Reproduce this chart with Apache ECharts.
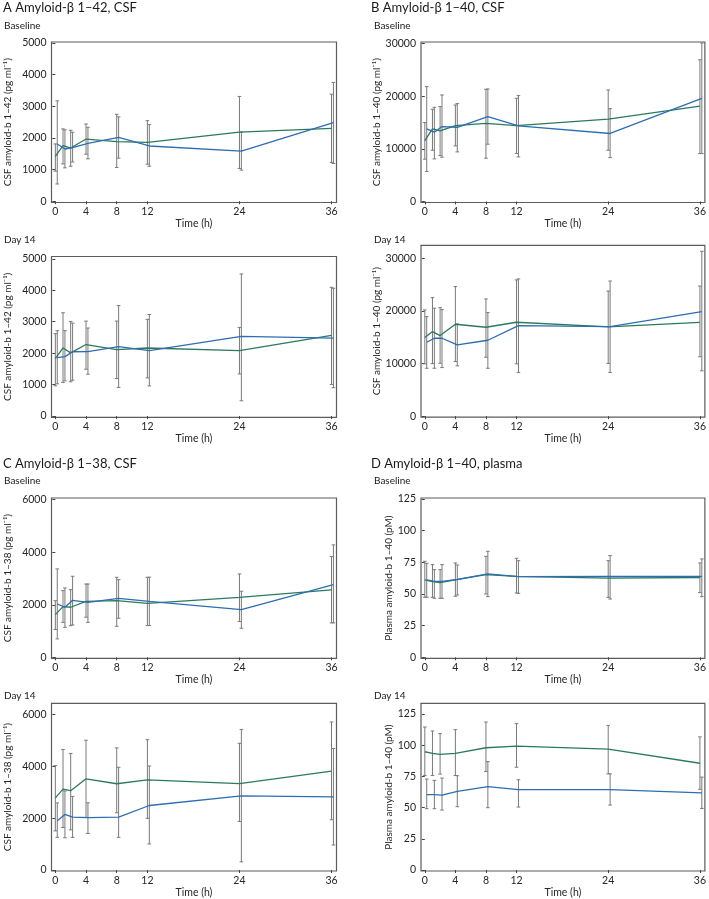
<!DOCTYPE html>
<html>
<head>
<meta charset="utf-8">
<script src="https://cdn.jsdelivr.net/npm/echarts@6/dist/echarts.min.js"></script>
<style>
  html, body { margin: 0; padding: 0; background: #fff; }
  #chart { width: 709px; height: 899px; }
</style>
</head>
<body>
<div id="chart"></div>
<script>
// sampling times (h) and labelled ticks
const hours = [0, 1, 2, 4, 8, 12, 24, 36];
const xTicks = [0, 4, 8, 12, 24, 36];

// A  Amyloid-beta 1-42, CSF
const a42BaseGreen   = [1420, 1760, 1680, 1965, 1885, 1860, 2180, 2300];
const a42BaseGreenLo = [950, 1180, 1105, 1485, 1065, 1170, 1036, 1226];
const a42BaseGreenHi = [1810, 2285, 2240, 2440, 2745, 2545, 3310, 3380];
const a42BaseBlue    = [1810, 1650, 1695, 1830, 2020, 1745, 1586, 2480];
const a42BaseBlueLo  = [545, 1055, 1240, 1340, 1360, 1105, 983, 1194];
const a42BaseBlueHi  = [3170, 2255, 2180, 2335, 2665, 2420, 2190, 3753];

const a42D14Green   = [1830, 2165, 2010, 2275, 2115, 2165, 2080, 2565];
const a42D14GreenLo = [960, 1065, 1090, 1490, 1195, 1215, 1340, 1005];
const a42D14GreenHi = [2620, 3285, 3010, 3020, 3020, 3075, 2820, 4095];
const a42D14Blue    = [1855, 1890, 2045, 2050, 2205, 2080, 2535, 2480];
const a42D14BlueLo  = [1025, 1120, 1140, 1330, 910, 960, 485, 900];
const a42D14BlueHi  = [2715, 2715, 2955, 2800, 3515, 3230, 4520, 4065];

// B  Amyloid-beta 1-40, CSF
const a40BaseGreen   = [11580, 13800, 13420, 14430, 14870, 14430, 15670, 18150];
const a40BaseGreenLo = [8040, 9750, 8730, 10570, 8230, 9110, 9750, 9110];
const a40BaseGreenHi = [15000, 17530, 18040, 18350, 21330, 19620, 21200, 26940];
const a40BaseBlue    = [13800, 13170, 14240, 14110, 16140, 14370, 12930, 19620];
const a40BaseBlueLo  = [5700, 8100, 8420, 9430, 10890, 8480, 8340, 9110];
const a40BaseBlueHi  = [21840, 17910, 20250, 18610, 21390, 20130, 17650, 30130];

const a40D14Green   = [14940, 16080, 15320, 17470, 16900, 17850, 16990, 17820];
const a40D14GreenLo = [9940, 10000, 10060, 10380, 11200, 9940, 10020, 11290];
const a40D14GreenHi = [20190, 22530, 20630, 24620, 22280, 25890, 23780, 24730];
const a40D14Blue    = [14050, 14810, 14810, 13540, 14430, 17220, 17000, 19850];
const a40D14BlueLo  = [9110, 9110, 9240, 9560, 9110, 8290, 8310, 8620];
const a40D14BlueHi  = [18920, 20510, 20250, 17530, 19680, 26080, 25680, 31330];

// C  Amyloid-beta 1-38, CSF
const a38BaseGreen   = [1625, 1930, 1905, 2130, 2155, 2055, 2285, 2565];
const a38BaseGreenLo = [1055, 1330, 1205, 1525, 1180, 1205, 1360, 1310];
const a38BaseGreenHi = [2155, 2540, 2575, 2790, 3045, 3045, 3175, 3835];
const a38BaseBlue    = [2030, 1905, 2170, 2095, 2245, 2130, 1815, 2770];
const a38BaseBlueLo  = [700, 1140, 1230, 1330, 1485, 1210, 1105, 1310];
const a38BaseBlueHi  = [3365, 2640, 3085, 2790, 2955, 3050, 2515, 4280];

const a38D14Green   = [2785, 3125, 3060, 3520, 3330, 3480, 3335, 3815];
const a38D14GreenLo = [1510, 1640, 1550, 2030, 2210, 1995, 1875, 1940];
const a38D14GreenHi = [4030, 4650, 4500, 5010, 4715, 5030, 4890, 5715];
const a38D14Blue    = [1905, 2145, 2045, 2020, 2045, 2490, 2865, 2825];
const a38D14BlueLo  = [1260, 1245, 1260, 1410, 1260, 1005, 315, 965];
const a38D14BlueHi  = [2590, 3050, 2840, 2595, 3965, 4015, 5425, 4690];

// D  Amyloid-beta 1-40, plasma
const p40BaseGreen   = [61.1, 59.7, 58.9, 61.1, 65.3, 63.9, 62.5, 63.0];
const p40BaseGreenLo = [47.4, 47.4, 46.6, 48.2, 50.0, 50.8, 47.3, 51.1];
const p40BaseGreenHi = [75.8, 73.2, 69.2, 74.5, 79.7, 78.2, 76.3, 74.5];
const p40BaseBlue    = [61.1, 60.0, 60.0, 61.6, 65.8, 63.7, 63.8, 63.8];
const p40BaseBlueLo  = [47.4, 46.6, 46.6, 49.2, 47.9, 50.5, 46.0, 47.9];
const p40BaseBlueHi  = [74.2, 69.2, 73.2, 72.9, 83.7, 76.3, 80.3, 77.7];

const p40D14Green   = [94.7, 93.4, 92.6, 93.4, 97.9, 99.2, 96.8, 85.5];
const p40D14GreenLo = [75.7, 75.7, 76.8, 75.7, 78.9, 82.3, 77.0, 64.6];
const p40D14GreenHi = [114.5, 111.3, 109.2, 112.4, 118.5, 117.2, 115.8, 106.6];
const p40D14Blue    = [60.4, 60.4, 59.9, 63.0, 66.8, 64.4, 64.4, 61.7];
const p40D14BlueLo  = [49.1, 49.1, 48.0, 50.7, 49.9, 50.4, 52.0, 49.3];
const p40D14BlueHi  = [72.8, 71.8, 73.6, 75.5, 86.8, 72.3, 77.0, 74.4];

// y tick labels
const ticks42 = [0, 1000, 2000, 3000, 4000, 5000];
const ticks40 = [0, 10000, 20000, 30000];
const ticks38 = [0, 2000, 4000, 6000];
const ticksPlasma = [0, 25, 50, 75, 100, 125];

const yName42 = 'CSF amyloid-b 1\u201342 (pg ml\u207b\u00b9)';
const yName40 = 'CSF amyloid-b 1\u201340 (pg ml\u207b\u00b9)';
const yName38 = 'CSF amyloid-b 1\u201338 (pg ml\u207b\u00b9)';
const yNamePlasma = 'Plasma amyloid-b 1\u201340 (pM)';

const GREEN = '#2b7a5d';
const BLUE = '#2d6db2';
const BAR = '#7a7a7a';
const FONT = 'Lato';
const TXT = '#262626';
const blueShift = 0.25; // blue points are drawn slightly right of the green ones

// layout of the 8 panels
const panels = [
  { left: 51.5, top: 42,    height: 160.5, min: -40,  max: 5030,  ticks: ticks42, name: yName42, gap: 39,
    g: a42BaseGreen, gLo: a42BaseGreenLo, gHi: a42BaseGreenHi, b: a42BaseBlue, bLo: a42BaseBlueLo, bHi: a42BaseBlueHi },
  { left: 51.5, top: 256.5, height: 160.8, min: -40,  max: 5075,  ticks: ticks42, name: yName42, gap: 39,
    g: a42D14Green, gLo: a42D14GreenLo, gHi: a42D14GreenHi, b: a42D14Blue, bLo: a42D14BlueLo, bHi: a42D14BlueHi },
  { left: 421,  top: 42,    height: 160.5, min: -190, max: 30320, ticks: ticks40, name: yName40, gap: 37,
    g: a40BaseGreen, gLo: a40BaseGreenLo, gHi: a40BaseGreenHi, b: a40BaseBlue, bLo: a40BaseBlueLo, bHi: a40BaseBlueHi },
  { left: 421,  top: 245.3, height: 171.9, min: -190, max: 32470, ticks: ticks40, name: yName40, gap: 37,
    g: a40D14Green, gLo: a40D14GreenLo, gHi: a40D14GreenHi, b: a40D14Blue, bLo: a40D14BlueLo, bHi: a40D14BlueHi },
  { left: 51.5, top: 498,   height: 160.3, min: -38,  max: 6065,  ticks: ticks38, name: yName38, gap: 39,
    g: a38BaseGreen, gLo: a38BaseGreenLo, gHi: a38BaseGreenHi, b: a38BaseBlue, bLo: a38BaseBlueLo, bHi: a38BaseBlueHi },
  { left: 51.5, top: 703.3, height: 169.7, min: -38,  max: 6435,  ticks: ticks38, name: yName38, gap: 39,
    g: a38D14Green, gLo: a38D14GreenLo, gHi: a38D14GreenHi, b: a38D14Blue, bLo: a38D14BlueLo, bHi: a38D14BlueHi },
  { left: 421,  top: 498,   height: 160.3, min: -0.8, max: 125.8, ticks: ticksPlasma, name: yNamePlasma, gap: 27,
    g: p40BaseGreen, gLo: p40BaseGreenLo, gHi: p40BaseGreenHi, b: p40BaseBlue, bLo: p40BaseBlueLo, bHi: p40BaseBlueHi },
  { left: 421,  top: 703.3, height: 169.7, min: -0.8, max: 133.5, ticks: ticksPlasma, name: yNamePlasma, gap: 27,
    g: p40D14Green, gLo: p40D14GreenLo, gHi: p40D14GreenHi, b: p40D14Blue, bLo: p40D14BlueLo, bHi: p40D14BlueHi }
];

const labels = [
  { text: 'A Amyloid-\u03b2 1\u201342, CSF', left: 3, top: 1, size: 13 },
  { text: 'B Amyloid-\u03b2 1\u201340, CSF', left: 371, top: 1, size: 13 },
  { text: 'C Amyloid-\u03b2 1\u201338, CSF', left: 3, top: 457, size: 13 },
  { text: 'D Amyloid-\u03b2 1\u201340, plasma', left: 371, top: 457, size: 13 },
  { text: 'Baseline', left: 4, top: 21, size: 10 },
  { text: 'Baseline', left: 374, top: 21, size: 10 },
  { text: 'Baseline', left: 4, top: 476, size: 10 },
  { text: 'Baseline', left: 374, top: 476, size: 10 },
  { text: 'Day 14', left: 4, top: 235, size: 10 },
  { text: 'Day 14', left: 374, top: 235, size: 10 },
  { text: 'Day 14', left: 4, top: 691, size: 10 },
  { text: 'Day 14', left: 374, top: 691, size: 10 }
];

function errorBars(times, lo, hi, shift) {
  return times.map((t, i) => [t + shift, lo[i], hi[i]]);
}

function renderBar(params, api) {
  const x = api.value(0);
  const p1 = api.coord([x, api.value(1)]);
  const p2 = api.coord([x, api.value(2)]);
  const w = 1.8;
  const style = { stroke: BAR, lineWidth: 1 };
  return {
    type: 'group',
    children: [
      { type: 'line', shape: { x1: p1[0], y1: p1[1], x2: p2[0], y2: p2[1] }, style },
      { type: 'line', shape: { x1: p1[0] - w, y1: p1[1], x2: p1[0] + w, y2: p1[1] }, style },
      { type: 'line', shape: { x1: p2[0] - w, y1: p2[1], x2: p2[0] + w, y2: p2[1] }, style }
    ]
  };
}

const grid = [], xAxis = [], yAxis = [], series = [];
panels.forEach((p, i) => {
  grid.push({
    left: p.left, top: p.top, width: 285, height: p.height,
    show: true, borderColor: '#5c5c5c', borderWidth: 1.2, backgroundColor: 'transparent'
  });
  xAxis.push({
    type: 'value', gridIndex: i, min: -0.5, max: 36.65,
    name: 'Time (h)', nameLocation: 'middle', nameGap: 16,
    nameTextStyle: { fontFamily: FONT, fontSize: 10.5, color: TXT },
    axisLine: { show: false },
    axisTick: { show: true, length: 3, customValues: xTicks, lineStyle: { color: '#444' } },
    axisLabel: { customValues: xTicks, margin: 4, fontFamily: FONT, fontSize: 10.5, color: TXT,
      formatter: v => String(v) },
    splitLine: { show: false }
  });
  yAxis.push({
    type: 'value', gridIndex: i, min: p.min, max: p.max,
    name: p.name, nameLocation: 'middle', nameGap: p.gap,
    nameTextStyle: { fontFamily: FONT, fontSize: 10, color: TXT },
    axisLine: { show: false },
    axisTick: { show: true, length: 3, customValues: p.ticks, lineStyle: { color: '#444' } },
    axisLabel: { customValues: p.ticks, margin: 5, fontFamily: FONT, fontSize: 10.5, color: TXT,
      formatter: v => String(v) },
    splitLine: { show: false }
  });
  series.push(
    { type: 'custom', xAxisIndex: i, yAxisIndex: i, renderItem: renderBar, z: 1,
      encode: { x: 0, y: [1, 2] }, data: errorBars(hours, p.gLo, p.gHi, 0) },
    { type: 'custom', xAxisIndex: i, yAxisIndex: i, renderItem: renderBar, z: 1,
      encode: { x: 0, y: [1, 2] }, data: errorBars(hours, p.bLo, p.bHi, blueShift) },
    { type: 'line', xAxisIndex: i, yAxisIndex: i, showSymbol: false, z: 3, silent: true,
      lineStyle: { color: GREEN, width: 1.3 }, data: hours.map((t, k) => [t, p.g[k]]) },
    { type: 'line', xAxisIndex: i, yAxisIndex: i, showSymbol: false, z: 4, silent: true,
      lineStyle: { color: BLUE, width: 1.3 }, data: hours.map((t, k) => [t + blueShift, p.b[k]]) }
  );
});

const title = labels.map(l => ({
  text: l.text, left: l.left, top: l.top, padding: 0,
  textStyle: { fontFamily: FONT, fontSize: l.size, fontWeight: 'normal', color: '#1a1a1a' }
}));

const myChart = echarts.init(document.getElementById('chart'));
myChart.setOption({
  animation: false,
  backgroundColor: '#fff',
  title,
  grid,
  xAxis,
  yAxis,
  series
});
</script>
</body>
</html>
